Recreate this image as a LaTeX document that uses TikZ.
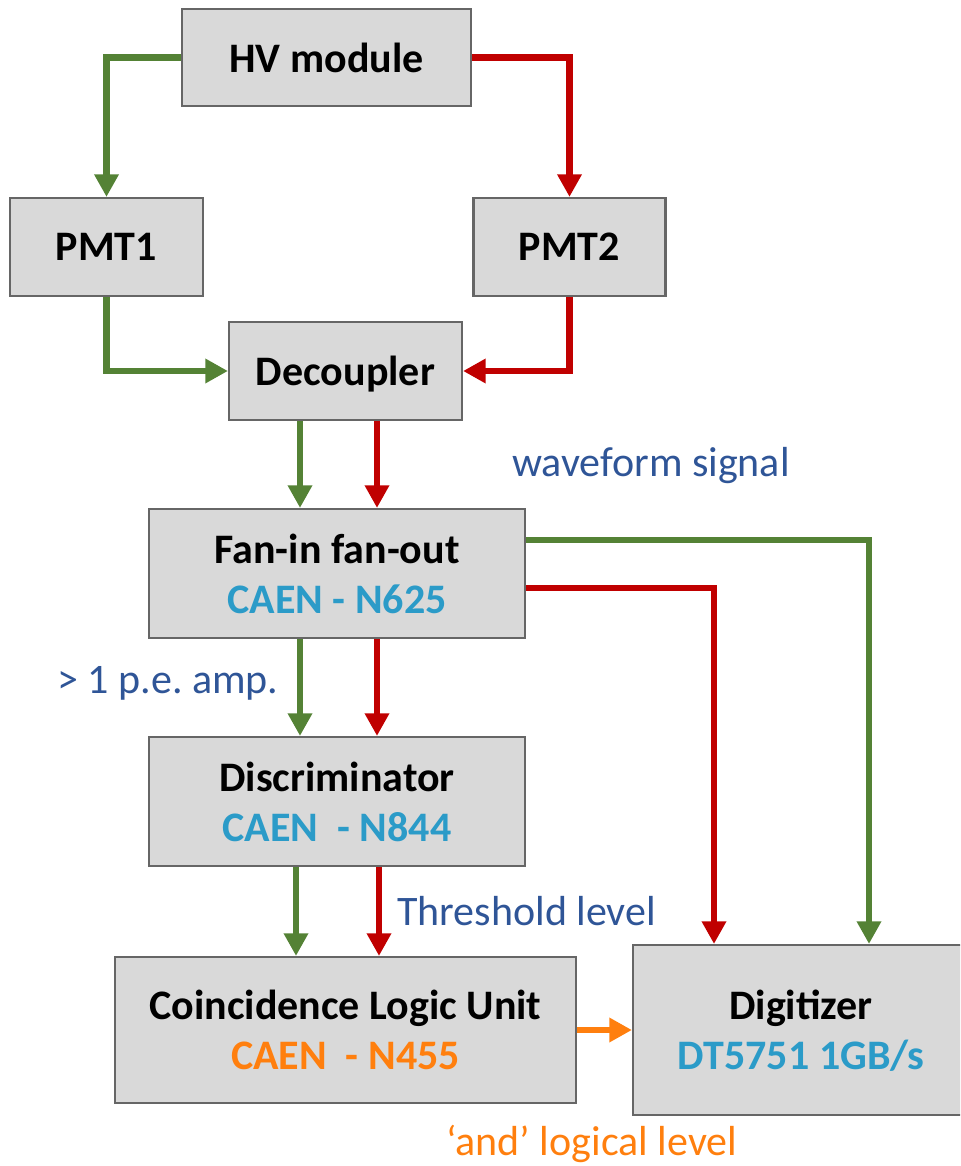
\documentclass[tikz,border=0pt]{standalone}
\usepackage{fontspec}
\setmainfont{Carlito}
\usetikzlibrary{arrows.meta}
\frenchspacing
\definecolor{cBox}{RGB}{217, 217, 217}
\definecolor{cEdge}{RGB}{102, 102, 102}
\definecolor{cGreen}{RGB}{84, 130, 53}
\definecolor{cRed}{RGB}{192, 0, 0}
\definecolor{cOrange}{RGB}{255, 127, 14}
\definecolor{cModel}{RGB}{43, 155, 200}
\definecolor{cNote}{RGB}{47, 85, 151}
\newcommand{\pxu}{0.75pt}

\begin{document}
\begin{tikzpicture}[
    x=0.75pt, y=-0.75pt,
    font=\fontsize{31.5}{37.5}\selectfont,
    unit/.style={draw=cEdge, line width=1.6pt, fill=cBox, inner sep=0pt,
        align=center, text depth=0pt, font=\fontsize{31.5}{37.5}\selectfont\bfseries},
    wire/.style={line width=5.2pt, -{Triangle[length=17pt, width=17.5pt]}},
    note/.style={anchor=base west, inner sep=0pt, text=cNote}
]

    % ================= 画布 =================
    \useasboundingbox (0, 0) rectangle (960, 1166);
    \clip (0, 0) rectangle (960, 1166);

    % ================= 模块 =================
    \node[unit, minimum width=289*\pxu, minimum height=97*\pxu] (hv) at (326.5, 57.5) {HV module};
    \node[unit, minimum width=193*\pxu, minimum height=98*\pxu] (pmtA) at (106.5, 247) {PMT1};
    \node[unit, minimum width=192*\pxu, minimum height=98*\pxu] (pmtB) at (569.5, 247) {PMT2};
    \node[unit, minimum width=233*\pxu, minimum height=98*\pxu] (dec) at (345.5, 371) {Decoupler};
    \node[unit, minimum width=376*\pxu, minimum height=129*\pxu] (fan) at (337, 573.5)
        {Fan-in fan-out\\ \textcolor{cModel}{CAEN - N625}};
    \node[unit, minimum width=376*\pxu, minimum height=129*\pxu] (disc) at (337, 801.5)
        {Discriminator\\ \textcolor{cModel}{CAEN\ \ - N844}};
    \node[unit, minimum width=461*\pxu, minimum height=146*\pxu] (coin) at (345.5, 1030)
        {Coincidence Logic Unit\\ \textcolor{cOrange}{CAEN\ \ - N455}};
    \node[unit, minimum width=336*\pxu, minimum height=170*\pxu] (dig) at (801, 1030)
        {Digitizer\\ \textcolor{cModel}{DT5751 1GB/s}};

    % ================= 折线位置 =================
    \coordinate (gUp)   at (300, 0);
    \coordinate (rUp)   at (377, 0);
    \coordinate (gLow)  at (296, 0);
    \coordinate (rLow)  at (379, 0);
    \coordinate (gSide) at (869, 540);
    \coordinate (rSide) at (714, 588);

    % ================= HV -> PMT -> Decoupler =================
    \draw[wire, cGreen] (hv.west) -| (pmtA.north);
    \draw[wire, cRed] (hv.east) -| (pmtB.north);
    \draw[wire, cGreen] (pmtA.south) |- (dec.west);
    \draw[wire, cRed] (pmtB.south) |- (dec.east);

    % ================= 纵向信号链 =================
    \draw[wire, cGreen] (dec.south -| gUp) -- (fan.north -| gUp);
    \draw[wire, cRed] (dec.south -| rUp) -- (fan.north -| rUp);
    \draw[wire, cGreen] (fan.south -| gUp) -- (disc.north -| gUp);
    \draw[wire, cRed] (fan.south -| rUp) -- (disc.north -| rUp);
    \draw[wire, cGreen] (disc.south -| gLow) -- (coin.north -| gLow);
    \draw[wire, cRed] (disc.south -| rLow) -- (coin.north -| rLow);

    % ================= 到 Digitizer =================
    \draw[wire, cGreen] (fan.east |- gSide) -| (dig.north -| gSide);
    \draw[wire, cRed] (fan.east |- rSide) -| (dig.north -| rSide);
    \draw[wire, cOrange] (coin.east) -- (dig.west);

    % ================= 说明文字 =================
    \node[note] (lWave) at (512, 476) {waveform signal};
    \node[note] (lAmp) at (57, 693) {> 1 p.e. amp.};
    \node[note] (lThr) at (397, 925) {Threshold level};
    \node[note, text=cOrange] (lAnd) at (446, 1155) {‘and’ logical level};

\end{tikzpicture}
\end{document}
